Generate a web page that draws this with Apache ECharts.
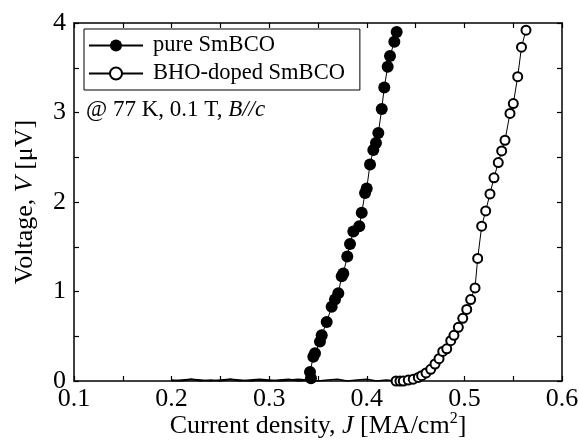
<!DOCTYPE html>
<html>
<head>
<meta charset="utf-8">
<script src="https://cdn.jsdelivr.net/npm/echarts@6/dist/echarts.min.js"></script>
<style>
html,body{margin:0;padding:0;background:#fff;}
#c{width:579px;height:443px;}
</style>
</head>
<body>
<div id="c"></div>
<script>
// ---- data ----
const xTicks = [0.1, 0.2, 0.3, 0.4, 0.5, 0.6];
const yTicks = [0, 1, 2, 3, 4];

// baseline (V ~ 0) portions, drawn as the connecting trace
const pureBaseJ = [0.200,0.210,0.220,0.230,0.240,0.250,0.260,0.270,0.280,0.290,0.300,0.310,0.320,0.330,0.338];
const pureBaseV = [0.01,0.00,0.02,0.01,0.00,0.01,0.02,0.00,0.01,0.02,0.01,0.00,0.01,0.02,0.01];
const dopedBaseJ = [0.200,0.210,0.220,0.230,0.240,0.250,0.260,0.270,0.280,0.290,0.300,0.310,0.320,0.330,0.340,0.350,0.360,0.370,0.380,0.390,0.400,0.410,0.420,0.430];
const dopedBaseV = [0.00,0.01,0.02,0.00,0.01,0.00,0.02,0.01,0.00,0.01,0.00,0.01,0.02,0.00,0.01,0.00,0.01,0.02,0.00,0.01,0.02,0.00,0.01,0.00];

// transition portions (markers)
const pureJ = [0.3428,0.3418,0.3452,0.3469,0.3520,0.3538,0.3589,0.3640,0.3674,0.3708,0.3743,0.3759,0.3800,0.3828,0.3862,0.3923,0.3948,0.3982,0.3999,0.4033,0.4067,0.4094,0.4118,0.4153,0.4179,0.4214,0.4238,0.4282,0.4306];
const pureV = [0.03,0.10,0.27,0.31,0.44,0.51,0.66,0.83,0.91,0.98,1.17,1.20,1.39,1.53,1.67,1.73,1.88,2.10,2.15,2.42,2.58,2.66,2.77,3.04,3.28,3.51,3.63,3.79,3.90];
const dopedJ = [0.4300,0.4340,0.4374,0.4425,0.4476,0.4528,0.4562,0.4607,0.4655,0.4699,0.4740,0.4778,0.4819,0.4860,0.4893,0.4938,0.4983,0.5024,0.5064,0.5109,0.5136,0.5177,0.5218,0.5262,0.5303,0.5347,0.5382,0.5416,0.5467,0.5501,0.5546,0.5585,0.5631];
const dopedV = [0.00,0.00,0.00,0.01,0.02,0.04,0.06,0.09,0.13,0.19,0.25,0.33,0.36,0.45,0.51,0.60,0.70,0.80,0.91,1.04,1.37,1.73,1.90,2.09,2.27,2.44,2.57,2.69,2.99,3.10,3.40,3.73,3.92];

const seriesNames = ['pure SmBCO', 'BHO-doped SmBCO'];
const annotation = '@ 77 K, 0.1 T, ';

const zip = (a, b) => a.map((v, i) => [v, b[i]]);
const FONT = '"Liberation Serif", "Times New Roman", Times, serif';

const chart = echarts.init(document.getElementById('c'), null, {renderer: 'canvas'});

const axisCommon = {
  axisLine: {show: true, onZero: false, lineStyle: {color: '#000', width: 1.5}},
  axisTick: {show: true, inside: true, length: 5, lineStyle: {color: '#000', width: 1.2}},
  minorTick: {show: true, splitNumber: 2, length: 5, lineStyle: {color: '#000', width: 1.2}},
  splitLine: {show: false},
  minorSplitLine: {show: false}
};

const option = {
  animation: false,
  backgroundColor: '#fff',
  textStyle: {fontFamily: FONT},
  grid: {left: 74, top: 23, right: 17, bottom: 62, containLabel: false, outerBoundsMode: 'none'},
  xAxis: [
    Object.assign({
      type: 'value', min: xTicks[0], max: xTicks[xTicks.length - 1], interval: 0.1,
      position: 'bottom',
      name: '{n|Current density, }{i|J}{n| [MA/cm}{s|2}{n|]}',
      nameLocation: 'middle', nameGap: 30, nameMoveOverlap: false,
      nameTextStyle: {
        rich: {
          n: {fontFamily: FONT, fontSize: 26, color: '#000'},
          i: {fontFamily: FONT, fontSize: 26, fontStyle: 'italic', color: '#000'},
          s: {fontFamily: FONT, fontSize: 16, color: '#000', padding: [0, 0, 14, 0]}
        }
      },
      axisLabel: {fontFamily: FONT, fontSize: 26, color: '#000', margin: 5,
        formatter: v => v.toFixed(1)}
    }, axisCommon),
    Object.assign({
      type: 'value', min: xTicks[0], max: xTicks[xTicks.length - 1], interval: 0.1,
      position: 'top', axisLabel: {show: false}
    }, axisCommon)
  ],
  yAxis: [
    Object.assign({
      type: 'value', min: yTicks[0], max: yTicks[yTicks.length - 1], interval: 1,
      position: 'left',
      name: '{n|Voltage, }{i|V}{n| [μV]}',
      nameLocation: 'middle', nameGap: 36, nameMoveOverlap: false,
      nameTextStyle: {
        rich: {
          n: {fontFamily: FONT, fontSize: 26, color: '#000'},
          i: {fontFamily: FONT, fontSize: 26, fontStyle: 'italic', color: '#000'}
        }
      },
      axisLabel: {fontFamily: FONT, fontSize: 26, color: '#000', margin: 8}
    }, axisCommon),
    Object.assign({
      type: 'value', min: yTicks[0], max: yTicks[yTicks.length - 1], interval: 1,
      position: 'right', axisLabel: {show: false}
    }, axisCommon)
  ],
  legend: {
    data: seriesNames,
    orient: 'vertical',
    left: 84, top: 29,
    padding: [5, 15, 5, 4],
    itemGap: 5,
    itemWidth: 54, itemHeight: 15,
    borderColor: '#000', borderWidth: 1, borderRadius: 0,
    backgroundColor: '#fff',
    selectedMode: false,
    textStyle: {fontFamily: FONT, fontSize: 22.5, color: '#000', padding: [0, 0, 0, 5]}
  },
  graphic: [{
    type: 'text', left: 86, top: 98, z: 10,
    style: {
      text: '{n|' + annotation + '}{i|B//c}',
      rich: {
        n: {fontFamily: FONT, fontSize: 23, fill: '#000'},
        i: {fontFamily: FONT, fontSize: 23, fontStyle: 'italic', fill: '#000'}
      }
    }
  }],
  series: [
    {
      type: 'line', name: 'pure-base', data: zip(pureBaseJ, pureBaseV),
      showSymbol: false, symbol: 'none', clip: true,
      lineStyle: {color: '#000', width: 1.5}, z: 2
    },
    {
      type: 'line', name: 'doped-base', data: zip(dopedBaseJ, dopedBaseV),
      showSymbol: false, symbol: 'none', clip: true,
      lineStyle: {color: '#000', width: 1.5}, z: 2
    },
    {
      type: 'line', name: seriesNames[0], data: zip(pureJ, pureV),
      symbol: 'circle', symbolSize: 12, clip: true,
      itemStyle: {color: '#000', borderColor: '#000', borderWidth: 0},
      lineStyle: {color: '#000', width: 1}, z: 3
    },
    {
      type: 'line', name: seriesNames[1], data: zip(dopedJ, dopedV),
      symbol: 'circle', symbolSize: 9, clip: true,
      itemStyle: {color: '#fff', borderColor: '#000', borderWidth: 2},
      lineStyle: {color: '#000', width: 1}, z: 3
    }
  ]
};
chart.setOption(option);
</script>
</body>
</html>
